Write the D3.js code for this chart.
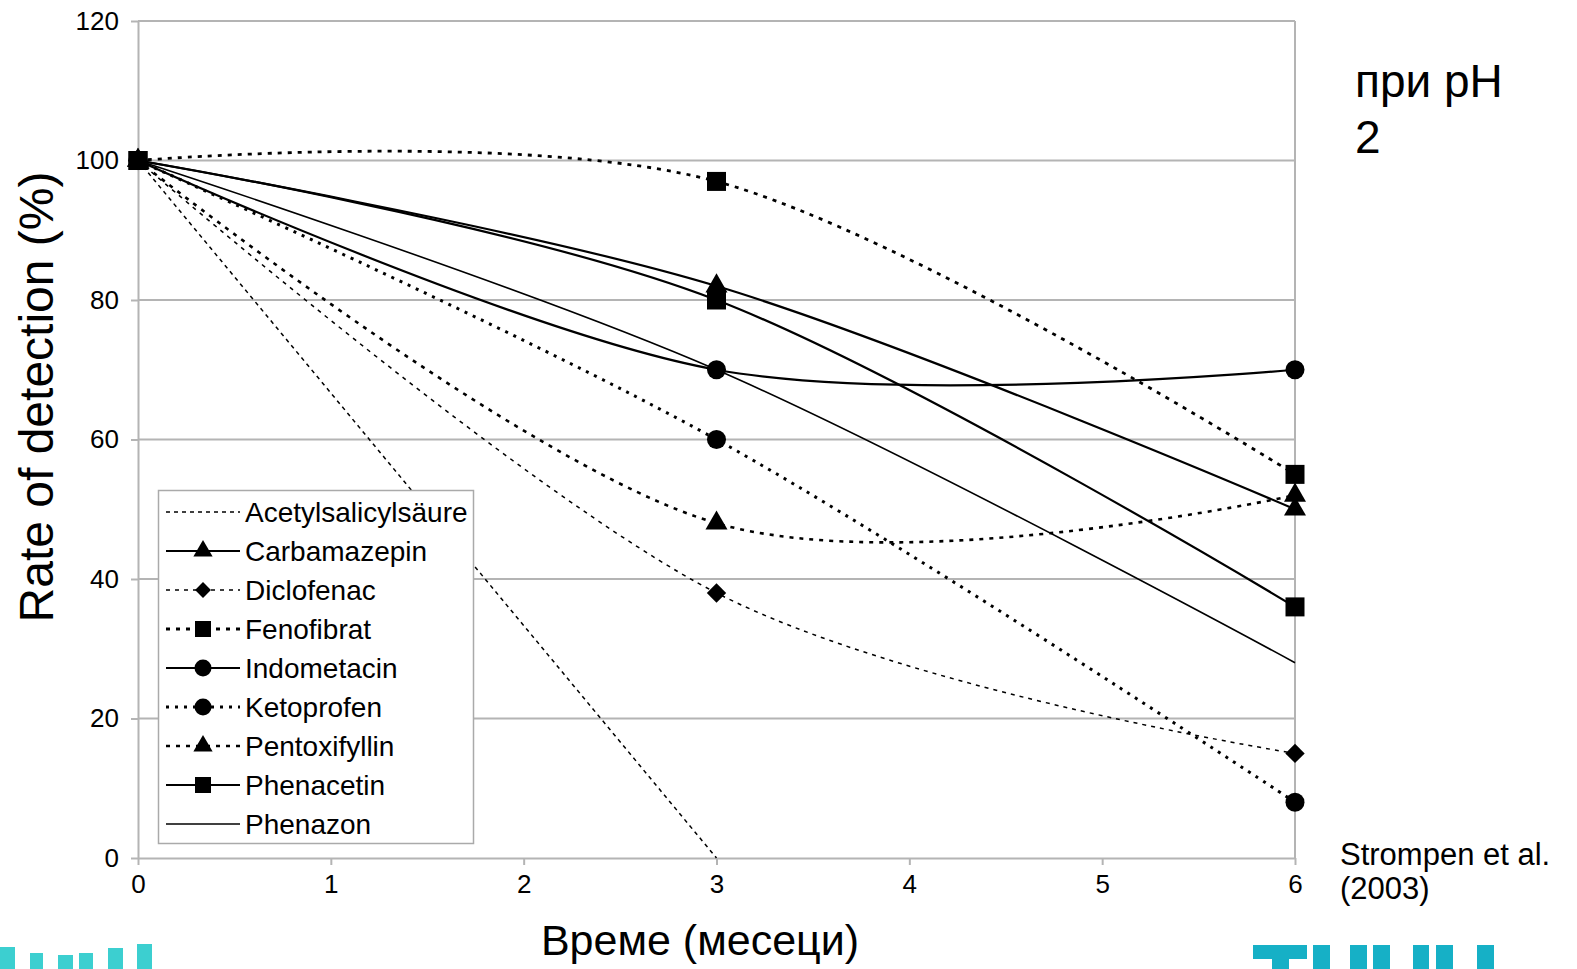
<!DOCTYPE html>
<html>
<head>
<meta charset="utf-8">
<script src="https://cdn.jsdelivr.net/npm/d3@7"></script>
<style>
  html, body { margin: 0; padding: 0; background: #fff; overflow: hidden; }
  svg { display: block; }
  svg text { font-family: "Liberation Sans", Arial, sans-serif; fill: #000; }
</style>
</head>
<body>
<div id="chart"></div>
<script>
// months at which samples were measured
var months = [0, 3, 6];

var series_names = ["Acetylsalicylsäure", "Carbamazepin", "Diclofenac", "Fenofibrat",
    "Indometacin", "Ketoprofen", "Pentoxifyllin", "Phenacetin", "Phenazon"];

// rate of detection (%) at each month, null = not measured
var acetylsalicylsaeure = [100, 0, null];
var carbamazepin = [100, 82, 50];
var diclofenac = [100, 38, 15];
var fenofibrat = [100, 97, 55];
var indometacin = [100, 70, 70];
var ketoprofen = [100, 60, 8];
var pentoxifyllin = [100, 48, 52];
var phenacetin = [100, 80, 36];
var phenazon = [100, 70, 28];

var series_values = [acetylsalicylsaeure, carbamazepin, diclofenac, fenofibrat,
    indometacin, ketoprofen, pentoxifyllin, phenacetin, phenazon];

var x_ticks = [0, 1, 2, 3, 4, 5, 6];
var y_ticks = [0, 20, 40, 60, 80, 100, 120];

var x_title = "Време (месеци)";
var y_title = "Rate of detection (%)";
var note_lines = ["при pH", "2"];
var source_lines = ["Strompen et al.", "(2003)"];

// line / marker look per series
var styles = [
    {marker: null,       width: 1.5, dash: "4,4"},
    {marker: "triangle", width: 2.2, dash: null},
    {marker: "diamond",  width: 1.5, dash: "4,5"},
    {marker: "square",   width: 2.8, dash: "4,6"},
    {marker: "circle",   width: 2.2, dash: null},
    {marker: "circle",   width: 3.0, dash: "3,6"},
    {marker: "triangle", width: 2.6, dash: "4,6"},
    {marker: "square",   width: 2.2, dash: null},
    {marker: null,       width: 1.6, dash: null}
];

var width = 1577;
var height = 969;
var margin = ({top: 21, right: 282, bottom: 111, left: 138});

var svg = d3.select("#chart")
    .append("svg")
    .attr("width", width)
    .attr("height", height);

var x = d3.scaleLinear()
    .domain([0, 6])
    .range([margin.left, width - margin.right]);
var y = d3.scaleLinear()
    .domain([0, 120])
    .range([height - margin.bottom, margin.top]);

var grid_color = "#b4b4b4";

// horizontal grid lines
svg.append("g")
    .selectAll("line")
    .data(y_ticks.slice(1))
    .enter()
    .append("line")
    .attr("x1", x(0))
    .attr("x2", x(6))
    .attr("y1", function(d) { return y(d); })
    .attr("y2", function(d) { return y(d); })
    .attr("stroke", grid_color)
    .attr("stroke-width", 2);

// right border of plot area
svg.append("line")
    .attr("x1", x(6)).attr("x2", x(6))
    .attr("y1", y(120)).attr("y2", y(0))
    .attr("stroke", grid_color)
    .attr("stroke-width", 2);

var x_axis = svg.append("g")
    .attr("transform", "translate(0," + y(0) + ")")
    .call(d3.axisBottom(x).tickValues(x_ticks).tickFormat(d3.format("d"))
        .tickSize(7).tickSizeOuter(0).tickPadding(10));
var y_axis = svg.append("g")
    .attr("transform", "translate(" + x(0) + ",0)")
    .call(d3.axisLeft(y).tickValues(y_ticks).tickFormat(d3.format("d"))
        .tickSize(7).tickSizeOuter(0).tickPadding(12));

[x_axis, y_axis].forEach(function(ax) {
    ax.attr("font-family", null).attr("font-size", null);
    ax.select(".domain").attr("stroke", grid_color).attr("stroke-width", 2);
    ax.selectAll(".tick line").attr("stroke", grid_color).attr("stroke-width", 2);
    ax.selectAll(".tick text")
        .attr("fill", "#000")
        .style("font-family", "'Liberation Sans', Arial, sans-serif")
        .style("font-size", "26px");
});

var symbol_types = {
    square: d3.symbolSquare,
    circle: d3.symbolCircle,
    triangle: d3.symbolTriangle,
    diamond: d3.symbolDiamond2
};
var plot_sizes = {square: 361, circle: 284, triangle: 210, diamond: 240};
var legend_sizes = {square: 256, circle: 227, triangle: 160, diamond: 160};

var line = d3.line()
    .defined(function(d) { return d.v != null; })
    .x(function(d) { return x(d.m); })
    .y(function(d) { return y(d.v); })
    .curve(d3.curveCardinal.tension(0));

var plot = svg.append("g");
series_values.forEach(function(vals, i) {
    var st = styles[i];
    var pts = months.map(function(m, j) { return {m: m, v: vals[j]}; });
    plot.append("path")
        .datum(pts)
        .attr("fill", "none")
        .attr("stroke", "#000")
        .attr("stroke-width", st.width)
        .attr("stroke-dasharray", st.dash)
        .attr("d", line);
    if (st.marker) {
        plot.selectAll(".m" + i)
            .data(pts.filter(function(d) { return d.v != null; }))
            .enter()
            .append("path")
            .attr("transform", function(d) { return "translate(" + x(d.m) + "," + y(d.v) + ")"; })
            .attr("d", d3.symbol().type(symbol_types[st.marker]).size(plot_sizes[st.marker]))
            .attr("fill", "#000");
    }
});

// legend
var legend = svg.append("g");
legend.append("rect")
    .attr("x", 158.5).attr("y", 490.5)
    .attr("width", 315).attr("height", 353)
    .attr("fill", "#fff")
    .attr("stroke", "#aaa")
    .attr("stroke-width", 1.5);
var rows = legend.selectAll(".row")
    .data(series_names)
    .enter()
    .append("g")
    .attr("transform", function(d, i) { return "translate(0," + (512 + i * 39) + ")"; });
rows.append("line")
    .attr("x1", 166).attr("x2", 240)
    .attr("stroke", "#000")
    .attr("stroke-width", function(d, i) { return styles[i].width; })
    .attr("stroke-dasharray", function(d, i) { return styles[i].dash; });
rows.filter(function(d, i) { return styles[i].marker; })
    .append("path")
    .attr("transform", "translate(203,0)")
    .attr("d", function(d) {
        var mk = styles[series_names.indexOf(d)].marker;
        return d3.symbol().type(symbol_types[mk]).size(legend_sizes[mk])();
    })
    .attr("fill", "#000");
rows.append("text")
    .attr("x", 245)
    .attr("dy", "0.35em")
    .style("font-size", "28px")
    .text(function(d) { return d; });

// axis titles
svg.append("text")
    .attr("x", 700)
    .attr("y", 955)
    .attr("text-anchor", "middle")
    .style("font-size", "43px")
    .text(x_title);
svg.append("text")
    .attr("transform", "translate(53,397) rotate(-90)")
    .attr("text-anchor", "middle")
    .style("font-size", "48px")
    .text(y_title);

// notes on the right
svg.append("g")
    .selectAll("text")
    .data(note_lines)
    .enter()
    .append("text")
    .attr("x", 1355)
    .attr("y", function(d, i) { return 97 + i * 56; })
    .style("font-size", "46px")
    .text(function(d) { return d; });
svg.append("g")
    .selectAll("text")
    .data(source_lines)
    .enter()
    .append("text")
    .attr("x", 1340)
    .attr("y", function(d, i) { return 865 + i * 34; })
    .style("font-size", "31px")
    .text(function(d) { return d; });

// cut-off logos at the bottom edge
var left_logo = svg.append("g").attr("fill", "#3ccfd0");
[[0, 15, 947], [30, 13, 953], [58, 15, 955], [79, 14, 953], [108, 15, 948], [137, 15, 944]]
    .forEach(function(b) {
        left_logo.append("rect").attr("x", b[0]).attr("y", b[2])
            .attr("width", b[1]).attr("height", height - b[2]);
    });
var right_logo = svg.append("g").attr("fill", "#16b0c6");
[[1253, 54, 945, 14], [1272, 17, 959, 10], [1313, 17, 945, 24], [1350, 17, 945, 24],
 [1373, 17, 945, 24], [1413, 16, 945, 24], [1436, 17, 945, 24], [1477, 17, 945, 24]]
    .forEach(function(b) {
        right_logo.append("rect").attr("x", b[0]).attr("y", b[2])
            .attr("width", b[1]).attr("height", b[3]);
    });
</script>
</body>
</html>
